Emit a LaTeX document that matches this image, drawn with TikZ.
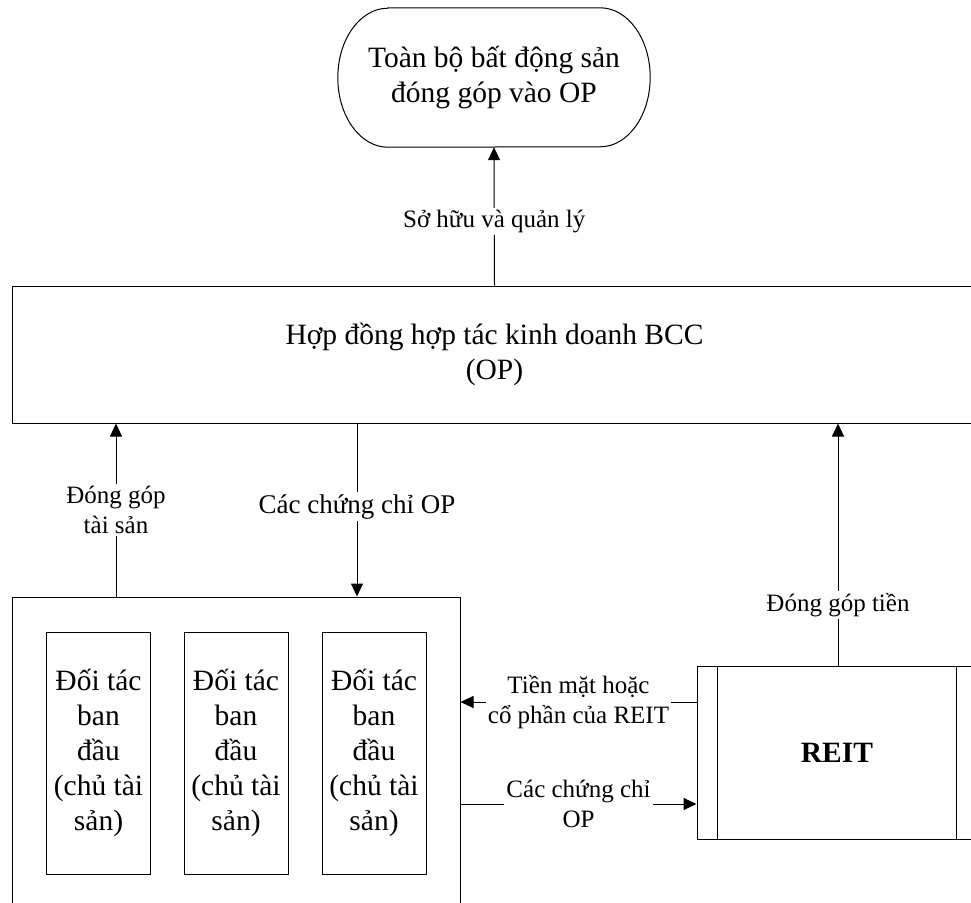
\documentclass[tikz,border=0pt]{standalone}
\usepackage{fontspec}
\setmainfont{Liberation Serif}
\usetikzlibrary{arrows.meta}

\begin{document}
\begin{tikzpicture}[x=1pt,y=-1pt,
  box/.style={draw,line width=1pt,align=center,inner sep=0pt},
  big/.style={font=\fontsize{29.5}{35}\selectfont},
  lbl/.style={fill=white,align=center,inner sep=2pt,font=\fontsize{25}{30}\selectfont},
  arr/.style={line width=1pt,-{Triangle[length=13pt,width=12pt]}}]
\useasboundingbox (0,0) rectangle (971,902);
\clip (0,0) rectangle (971,902);

% owned property and the BCC
\node[big,align=center,inner sep=0pt,minimum width=312pt,minimum height=139pt] (whole) at (494,77.5) {Toàn bộ bất động sản\\đóng góp vào OP};
\draw[line width=1pt] ([xshift=50pt]whole.north west) -- ([xshift=-50pt]whole.north east)
  arc[start angle=90,end angle=-90,x radius=50pt,y radius=69.5pt]
  -- ([xshift=50pt]whole.south west)
  arc[start angle=270,end angle=90,x radius=50pt,y radius=69.5pt] -- cycle;
\node[box,big,minimum width=965pt,minimum height=137pt] (bcc) at (494.5,354.5) {Hợp đồng hợp tác kinh doanh BCC\\(OP)};

% original partners
\node[box,minimum width=448pt,minimum height=360pt] (group) at (236,777) {};
\foreach \i/\x in {1/98.5,2/236,3/374}
  \node[box,big,minimum width=104pt,minimum height=242pt] (partner\i) at (\x,753) {Đối tác\\ban\\đầu\\(chủ tài\\sản)};

% REIT
\node[box,minimum width=280pt,minimum height=173pt,font=\fontsize{29.5}{35}\selectfont\bfseries] (reit) at (837,752.5) {REIT};
\draw[line width=1pt] ([xshift=21pt]reit.north west) -- ([xshift=21pt]reit.south west);
\draw[line width=1pt] ([xshift=-21pt]reit.north east) -- ([xshift=-21pt]reit.south east);

\coordinate (assetx) at (116,0);
\coordinate (certx) at (357,0);
\coordinate (cashx) at (838,0);
\coordinate (cashy) at (0,702);
\coordinate (certy) at (0,804);

\draw[arr] (bcc.north) -- (whole.south) node[lbl,pos=0.46] {Sở hữu và quản lý};
\draw[arr] (group.north -| assetx) -- (bcc.south -| assetx) node[lbl,midway] {Đóng góp\\tài sản};
\draw[arr] (bcc.south -| certx) -- (group.north -| certx) node[lbl,pos=0.48,font=\fontsize{27}{32}\selectfont] {Các chứng chỉ OP};
\draw[arr] (reit.north -| cashx) -- (bcc.south -| cashx) node[lbl,pos=0.25] {Đóng góp tiền};
\draw[arr] (reit.west |- cashy) -- (group.east |- cashy) node[lbl,midway] {Tiền mặt hoặc\\cổ phần của REIT};
\draw[arr] (group.east |- certy) -- (reit.west |- certy) node[lbl,midway] {Các chứng chỉ\\OP};
\end{tikzpicture}
\end{document}
